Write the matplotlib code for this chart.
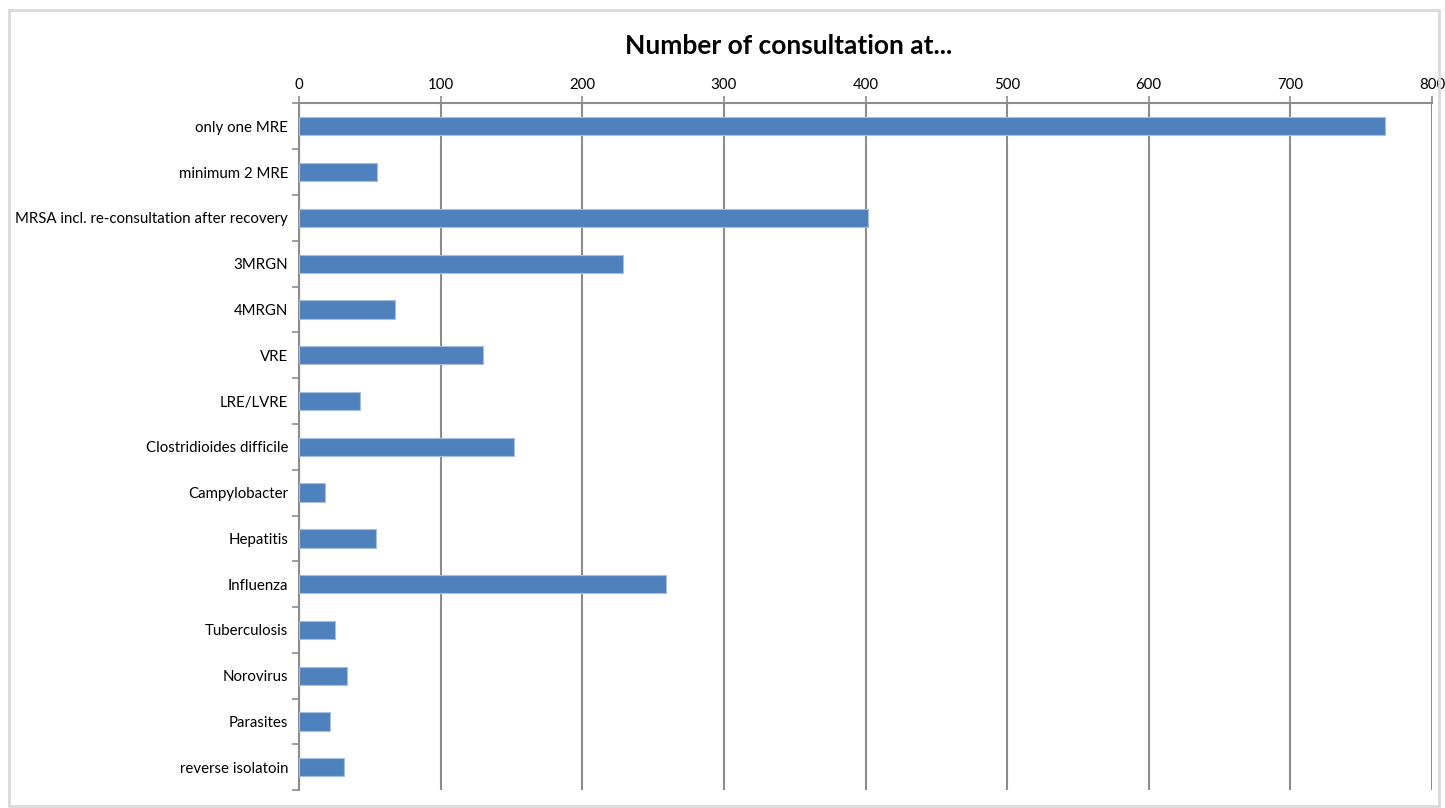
import matplotlib.pyplot as plt
import numpy as np
from matplotlib.patches import Rectangle

categories = [
    "only one MRE", "minimum 2 MRE", "MRSA incl. re-consultation after recovery",
    "3MRGN", "4MRGN", "VRE", "LRE/LVRE", "Clostridioides difficile",
    "Campylobacter", "Hepatitis", "Influenza", "Tuberculosis", "Norovirus",
    "Parasites", "reverse isolatoin",
]
counts = [767, 55, 402, 229, 68, 130, 43, 152, 18, 54, 259, 25, 34, 22, 32]
xticks = [0, 100, 200, 300, 400, 500, 600, 700, 800]

plt.rcParams['font.family'] = ['Lato', 'DejaVu Sans']

fig = plt.figure(figsize=(14.45, 8.08), dpi=100)
ax = fig.add_axes([0.207, 0.022, 0.784, 0.850])

y = np.arange(len(categories))
ax.barh(y, counts, height=0.4, color="#4F81BD", edgecolor="#A7BFDE", linewidth=0.8, zorder=3)

ax.set_xlim(0, 800)
ax.set_ylim(len(categories) - 0.5, -0.5)
ax.set_xticks(xticks)
ax.xaxis.tick_top()
ax.grid(axis="x", color="#8C8C8C", linewidth=1.5, zorder=0)

ax.set_yticks(y)
ax.set_yticklabels(categories, fontsize=10.8)
ax.set_yticks(np.arange(len(categories) + 1) - 0.5, minor=True)
ax.tick_params(axis="y", which="major", length=0, pad=8)
ax.tick_params(axis="y", which="minor", length=5, color="#8C8C8C", width=1.2)
ax.tick_params(axis="x", length=5, color="#8C8C8C", width=1.2, labelsize=10.8, pad=3)

for s in ["right", "bottom"]:
    ax.spines[s].set_visible(False)
for s in ["top", "left"]:
    ax.spines[s].set_color("#8C8C8C")
    ax.spines[s].set_linewidth(1.5)

fig.text(0.546, 0.943, "Number of consultation at...", ha="center", va="center",
         fontsize=19, fontweight="bold")

fig.patches.append(Rectangle((0.006, 0.003), 0.99, 0.985, transform=fig.transFigure,
                             fill=False, edgecolor="#D9D9D9", linewidth=2))

fig.savefig("out.png", dpi=100)
